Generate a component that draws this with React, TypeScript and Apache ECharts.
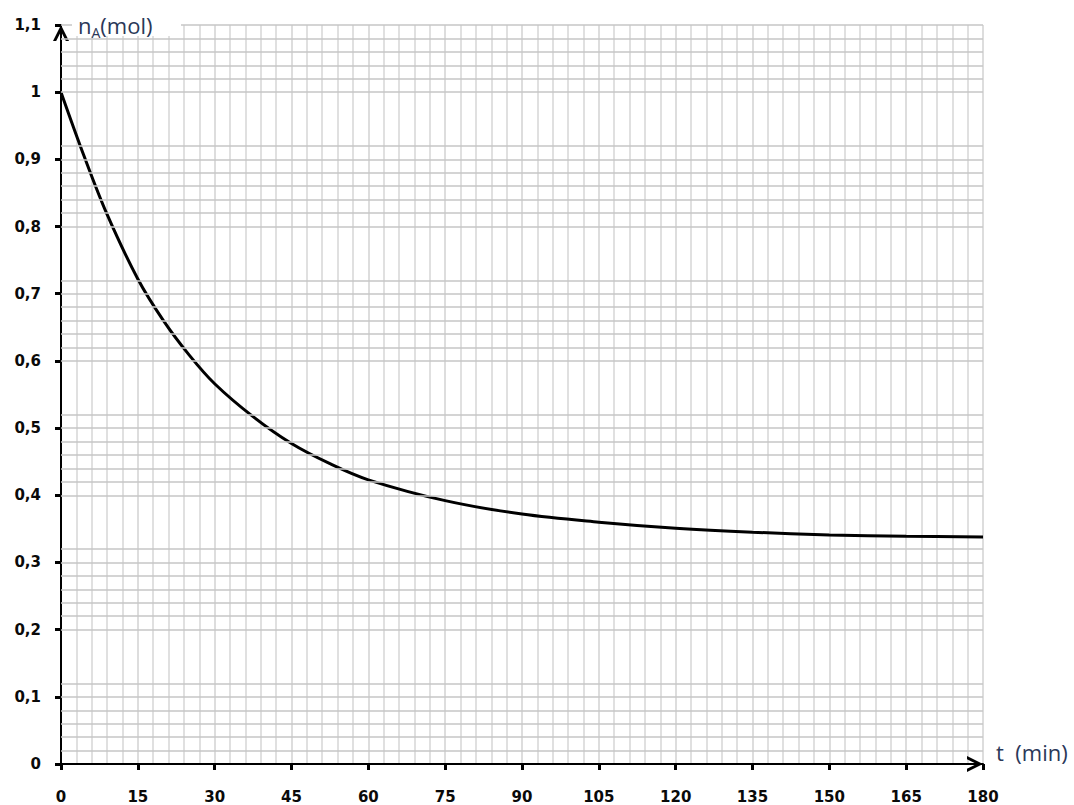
import React, { useEffect, useRef } from "react";
import * as echarts from "echarts";

// time (min) and amount of A (mol) along the decay curve
const T_MIN = [0, 4.5, 9, 15, 20, 25, 30, 37.5, 45, 52.5, 60, 75, 90, 105, 120, 135, 150, 165, 180];
const N_A = [1.0, 0.905, 0.818, 0.722, 0.66, 0.609, 0.566, 0.517, 0.477, 0.447, 0.423, 0.392, 0.372, 0.36, 0.351, 0.345, 0.341, 0.339, 0.338];

// horizontal ruling of the graph paper (bands of fine lines)
const H_LINES = [
  0.02, 0.04, 0.06, 0.08, 0.1, 0.12,
  0.2, 0.22, 0.24, 0.26, 0.28, 0.3, 0.32,
  0.4, 0.42, 0.44, 0.46, 0.48, 0.5, 0.52,
  0.6, 0.62, 0.64, 0.66, 0.68, 0.7, 0.72,
  0.8, 0.82, 0.84, 0.86, 0.88, 0.9, 0.92,
  1.0, 1.02, 1.04, 1.06, 1.08, 1.1,
];

const X_MIN = 0;
const X_MAX = 180;
const X_STEP = 15;
const Y_MIN = 0;
const Y_MAX = 1.1;
const Y_STEP = 0.1;

// open chevron drawn pointing up; the axis rotates it along its direction
const CHEVRON = "path://M0,18 L9,0 L18,18 L14.4,18 L9,7.2 L3.6,18 Z";

const LABEL_FONT = {
  fontFamily: "DejaVu Sans",
  fontWeight: "bold" as const,
  fontSize: 15,
  color: "#0a0a0a",
};

const TITLE_COLOR = "#2a3858";

export default function App() {
  const ref = useRef<HTMLDivElement>(null);

  useEffect(() => {
    document.body.style.margin = "0";
    if (!ref.current) return;
    const chart = echarts.init(ref.current, null, { renderer: "svg" });

    const axisLine = {
      show: true,
      lineStyle: { color: "#000", width: 2 },
      symbol: ["none", CHEVRON],
      symbolSize: [18, 16],
      symbolOffset: [0, -8],
    };

    chart.setOption({
      animation: false,
      backgroundColor: "#fff",
      grid: {
        left: 61,
        right: 91,
        top: 25,
        bottom: 41,
        outerBoundsMode: "none",
      },
      xAxis: {
        type: "value",
        min: X_MIN,
        max: X_MAX,
        interval: X_STEP,
        z: 1,
        axisLine,
        axisTick: { show: true, length: 6, lineStyle: { color: "#000", width: 3 } },
        axisLabel: { ...LABEL_FONT, margin: 25 },
        splitLine: { show: true, lineStyle: { color: "#d2d2d2", width: 1.5 } },
        minorTick: { show: false, splitNumber: 5 },
        minorSplitLine: { show: true, lineStyle: { color: "#d6d6d6", width: 1.5 } },
      },
      yAxis: {
        type: "value",
        min: Y_MIN,
        max: Y_MAX,
        interval: Y_STEP,
        z: 1,
        axisLine,
        axisTick: { show: true, length: 6, lineStyle: { color: "#000", width: 3 } },
        axisLabel: {
          ...LABEL_FONT,
          margin: 20,
          formatter: (v: number) => String(Number(v.toFixed(2))).replace(".", ","),
        },
        splitLine: { show: false },
      },
      graphic: [
        {
          type: "rect",
          shape: { x: 72, y: 6, width: 109, height: 30 },
          style: { fill: "#fff" },
          z: 50,
        },
        {
          type: "text",
          x: 78,
          y: 25,
          z: 51,
          style: {
            text: "{n|n}{s|A}{n|(mol)}",
            verticalAlign: "middle",
            rich: {
              n: { fontFamily: "Open Sans", fontSize: 22, fill: TITLE_COLOR, lineHeight: 28, verticalAlign: "middle" },
              s: { fontFamily: "Open Sans", fontSize: 14, fill: TITLE_COLOR, lineHeight: 28, verticalAlign: "bottom", padding: [9, 0, 0, 0] },
            },
          },
        },
        {
          type: "text",
          x: 996,
          y: 752,
          z: 51,
          style: {
            text: "t  (min)",
            fontFamily: "Open Sans",
            fontSize: 22,
            fill: TITLE_COLOR,
            verticalAlign: "middle",
          },
        },
      ],
      series: [
        {
          name: "ruling",
          type: "line",
          data: [],
          z: 0,
          silent: true,
          markLine: {
            silent: true,
            symbol: ["none", "none"],
            label: { show: false },
            lineStyle: { color: "#c6c6c6", width: 1.5, type: "solid" },
            emphasis: { disabled: true },
            data: H_LINES.map((v) => ({ yAxis: v })),
          },
        },
        {
          name: "nA",
          type: "line",
          z: 3,
          smooth: 0.35,
          showSymbol: false,
          lineStyle: { color: "#000", width: 3 },
          data: T_MIN.map((t, i) => [t, N_A[i]]),
        },
      ],
    });

    return () => chart.dispose();
  }, []);

  return <div ref={ref} style={{ width: 1074, height: 805 }} />;
}
